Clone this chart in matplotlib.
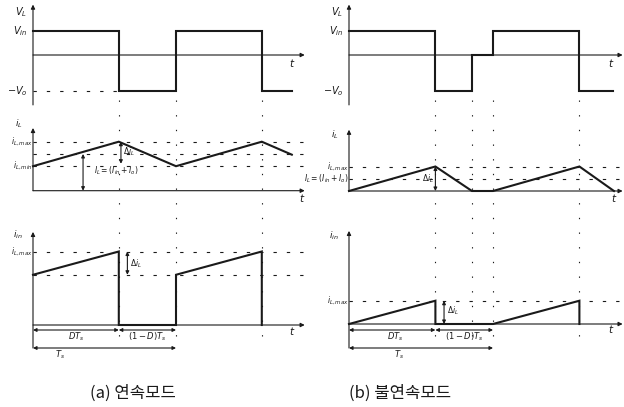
import matplotlib
matplotlib.use("Agg")
import matplotlib.pyplot as plt

plt.rcParams['font.family'] = ['DejaVu Sans', 'Noto Sans CJK KR']
plt.rcParams['mathtext.fontset'] = 'dejavusans'

# ---------------- data (time in units of Ts, levels in relative units) ----------------
D = 0.6
Vin = 1.0
Vo = 1.5

# (a) continuous mode
ta_v = [0, 0.6, 0.6, 1.0, 1.0, 1.6, 1.6, 1.81]
va_v = [1.0, 1.0, -1.5, -1.5, 1.0, 1.0, -1.5, -1.5]
ta_il = [0, 0.6, 1.0, 1.6, 1.81]
ia_il = [1.0, 2.0, 1.0, 2.0, 1.47]
ta_in = [0, 0.6, 0.6, 1.0, 1.0, 1.6, 1.6]
ia_in = [2.05, 3.0, 0.0, 0.0, 2.05, 3.0, 0.0]
a_il_levels = [2.0, 1.5, 1.0]
a_in_levels = [3.0, 2.05]
a_marks = [0.6, 1.0, 1.6]

# (b) discontinuous mode
tb_v = [0, 0.6, 0.6, 0.854, 0.854, 1.0, 1.0, 1.6, 1.6, 1.83]
vb_v = [1.0, 1.0, -1.5, -1.5, 0.0, 0.0, 1.0, 1.0, -1.5, -1.5]
tb_il = [0, 0.6, 0.854, 1.0, 1.6, 1.84]
ib_il = [0.0, 1.0, 0.0, 0.0, 1.0, 0.0]
tb_in = [0, 0.6, 0.6, 1.0, 1.6, 1.6]
ib_in = [0.0, 0.95, 0.0, 0.0, 0.95, 0.0]
b_il_levels = [1.0, 0.5]
b_in_levels = [0.95]
b_marks = [0.6, 0.854, 1.0, 1.6]

captions = ["(a) 연속모드", "(b) 불연속모드"]

# ---------------- layout helpers ----------------
W, H = 624, 407
fig = plt.figure(figsize=(W / 100, H / 100), dpi=100)
fig.patch.set_facecolor('white')
INK = '#1a1a1a'
FS = 6.5


def px_axes(box, t0, tsp, y0, ysc):
    l, t, r, b = box
    ax = fig.add_axes([l / W, 1 - b / H, (r - l) / W, (b - t) / H])
    ax.set_xlim((l - t0) / tsp, (r - t0) / tsp)
    ax.set_ylim((y0 - b) / ysc, (y0 - t) / ysc)
    ax.axis('off')
    return ax


def arrow(ax, x0, y0, x1, y1, style='-|>', lw=0.8, ms=6):
    ax.annotate('', xy=(x1, y1), xytext=(x0, y0), annotation_clip=False,
                arrowprops=dict(arrowstyle=style, lw=lw, color=INK,
                                mutation_scale=ms, shrinkA=0, shrinkB=0))


def hdash(ax, y, x0, x1):
    ax.plot([x0, x1], [y, y], color=INK, lw=0.8, dashes=(3, 9), clip_on=False)


def wave(ax, t, v):
    ax.plot(t, v, color=INK, lw=1.5, clip_on=False, solid_joinstyle='miter')


def lab(ax, x, y, s, ha='left', va='center', fs=FS):
    ax.text(x, y, s, ha=ha, va=va, fontsize=fs, color=INK, clip_on=False)


# ---------------- column (a) ----------------
t0a, tsa = 33, 143
xe_a = 1.90
ov_a = px_axes((0, 0, 310, 407), t0a, tsa, 0, -1)
va = px_axes((0, 0, 310, 112), t0a, tsa, 55, 24)
ila = px_axes((0, 112, 310, 215), t0a, tsa, 190.7, 24.5)
ina = px_axes((0, 215, 310, 365), t0a, tsa, 325, 24.5)

for m in a_marks:
    ov_a.plot([m, m], [100, 345], color=INK, lw=0.8, dashes=(1.2, 12), clip_on=False)

# VL
arrow(va, 0, -2.08, 0, 2.1)
arrow(va, 0, 0, xe_a, 0)
hdash(va, -Vo, 0, 0.6)
wave(va, ta_v, va_v)
lab(va, -0.04, 1.8, '$V_L$', ha='right', fs=7)
lab(va, -0.04, Vin, '$V_{in}$', ha='right', fs=7)
lab(va, -0.04, -Vo, '$-V_o$', ha='right', fs=7)
lab(va, 1.79, -0.35, '$t$', fs=7.5)

# iL
arrow(ila, 0, 0, 0, 2.56)
arrow(ila, 0, 0, xe_a, 0)
for lv in a_il_levels:
    hdash(ila, lv, 0, xe_a)
wave(ila, ta_il, ia_il)
arrow(ila, 0.35, 0, 0.35, 1.5, style='<|-|>', ms=5)
arrow(ila, 0.615, 2.0, 0.615, 1.1, style='<|-|>', ms=5)
lab(ila, -0.07, 2.75, '$i_L$', ha='right')
lab(ila, -0.005, 2.0, '$i_{L,max}$', ha='right', fs=5.5)
lab(ila, -0.005, 1.0, '$i_{L,min}$', ha='right', fs=5.5)
lab(ila, 0.63, 1.6, r'$\Delta i_L$', fs=5.5)
lab(ila, 0.43, 0.8, '$I_L=(I_{in}+I_o)$', fs=5.5)
lab(ila, 1.86, -0.3, '$t$', fs=7.5)

# iin
arrow(ina, 0, -0.94, 0, 3.8)
arrow(ina, 0, 0, xe_a, 0)
for lv in a_in_levels:
    hdash(ina, lv, 0, xe_a)
wave(ina, ta_in, ia_in)
arrow(ina, 0.66, 3.0, 0.66, 2.05, style='<|-|>', ms=5)
lab(ina, -0.07, 3.7, '$i_{in}$', ha='right')
lab(ina, -0.005, 3.0, '$i_{L,max}$', ha='right', fs=5.5)
lab(ina, 0.68, 2.5, r'$\Delta i_L$', fs=5.5)
lab(ina, 1.79, -0.25, '$t$', fs=7.5)

arrow(ov_a, 0, 330, 0.6, 330, style='<|-|>', ms=5)
arrow(ov_a, 0.6, 330, 1.0, 330, style='<|-|>', ms=5)
arrow(ov_a, 0, 348, 1.0, 348, style='<|-|>', ms=5)
lab(ov_a, 0.3, 337, '$DT_s$', ha='center', fs=6)
lab(ov_a, 0.8, 337, '$(1-D)T_s$', ha='center', fs=6)
lab(ov_a, 0.19, 355, '$T_s$', ha='center', fs=6)

# ---------------- column (b) ----------------
t0b, tsb = 349, 144
xe_b = 1.90
ov_b = px_axes((310, 0, 624, 407), t0b, tsb, 0, -1)
vb = px_axes((310, 0, 624, 112), t0b, tsb, 55, 24)
ilb = px_axes((310, 112, 624, 215), t0b, tsb, 191, 24.5)
inb = px_axes((310, 215, 624, 365), t0b, tsb, 324, 24.5)

for m in b_marks:
    ov_b.plot([m, m], [100, 345], color=INK, lw=0.8, dashes=(1.2, 12), clip_on=False)

arrow(vb, 0, -2.08, 0, 2.1)
arrow(vb, 0, 0, xe_b, 0)
wave(vb, tb_v, vb_v)
lab(vb, -0.04, 1.8, '$V_L$', ha='right', fs=7)
lab(vb, -0.04, Vin, '$V_{in}$', ha='right', fs=7)
lab(vb, -0.04, -Vo, '$-V_o$', ha='right', fs=7)
lab(vb, 1.8, -0.35, '$t$', fs=7.5)

arrow(ilb, 0, 0, 0, 2.5)
arrow(ilb, 0, 0, xe_b, 0)
for lv in b_il_levels:
    hdash(ilb, lv, 0, xe_b)
wave(ilb, tb_il, ib_il)
arrow(ilb, 0.6, 1.0, 0.6, 0, style='<|-|>', ms=5)
lab(ilb, -0.07, 2.3, '$i_L$', ha='right')
lab(ilb, -0.005, 1.0, '$i_{L,max}$', ha='right', fs=5.5)
lab(ilb, -0.005, 0.5, '$I_L=(I_{in}+I_o)$', ha='right', fs=5.5)
lab(ilb, 0.59, 0.5, r'$\Delta i_L$', ha='right', fs=5.5)
lab(ilb, 1.82, -0.3, '$t$', fs=7.5)

arrow(inb, 0, -0.98, 0, 3.8)
arrow(inb, 0, 0, xe_b, 0)
for lv in b_in_levels:
    hdash(inb, lv, 0, xe_b)
wave(inb, tb_in, ib_in)
arrow(inb, 0.66, 0.95, 0.66, 0, style='<|-|>', ms=5)
lab(inb, -0.07, 3.6, '$i_{in}$', ha='right')
lab(inb, -0.005, 0.95, '$i_{L,max}$', ha='right', fs=5.5)
lab(inb, 0.68, 0.55, r'$\Delta i_L$', fs=5.5)
lab(inb, 1.8, -0.2, '$t$', fs=7.5)

arrow(ov_b, 0, 330, 0.6, 330, style='<|-|>', ms=5)
arrow(ov_b, 0.6, 330, 1.0, 330, style='<|-|>', ms=5)
arrow(ov_b, 0, 348, 1.0, 348, style='<|-|>', ms=5)
lab(ov_b, 0.32, 337, '$DT_s$', ha='center', fs=6)
lab(ov_b, 0.8, 337, '$(1-D)T_s$', ha='center', fs=6)
lab(ov_b, 0.35, 355, '$T_s$', ha='center', fs=6)

# captions
ov_a.text((133 - t0a) / tsa, 393, captions[0], ha='center', va='center', fontsize=12,
          family=['Noto Sans CJK KR', 'DejaVu Sans'], color=INK)
ov_b.text((400 - t0b) / tsb, 393, captions[1], ha='center', va='center', fontsize=12,
          family=['Noto Sans CJK KR', 'DejaVu Sans'], color=INK)

fig.savefig('out.png', dpi=100, facecolor='white')
